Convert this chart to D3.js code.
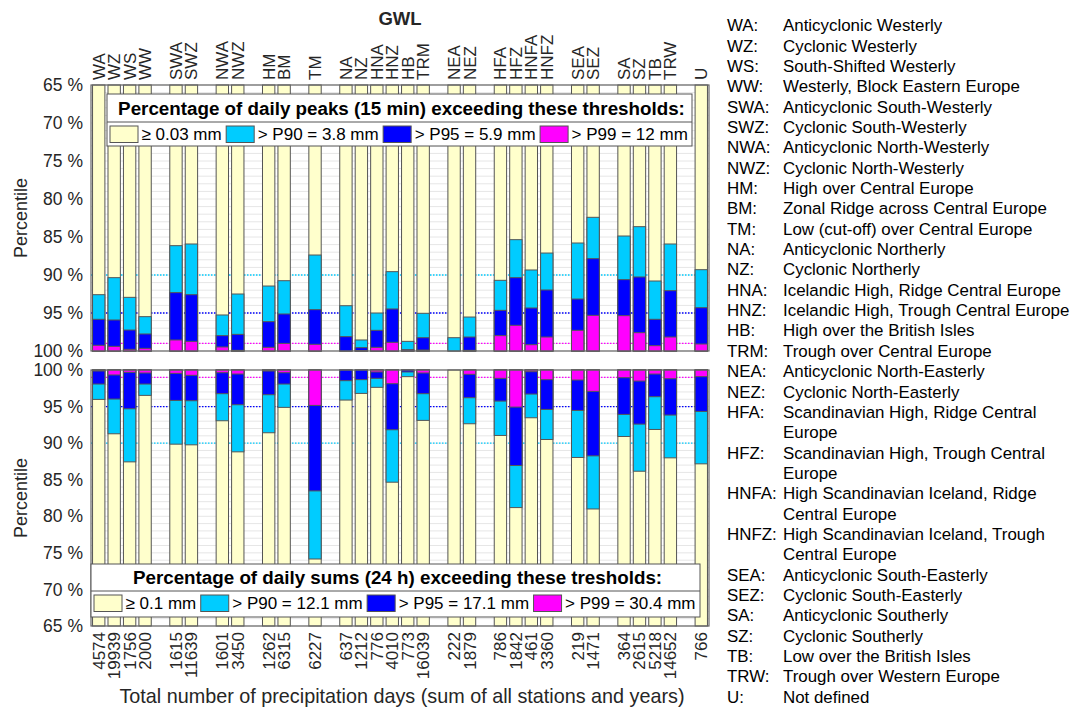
<!DOCTYPE html>
<html>
<head>
<meta charset="utf-8">
<script src="https://cdn.jsdelivr.net/npm/d3@7"></script>
<style>
  body { margin: 0; background: #fff; }
  svg { font-family: "Liberation Sans", Arial, sans-serif; }
</style>
</head>
<body>
<svg id="chart" width="1077" height="709"></svg>
<script>
// weather types (GWL), grouped; one empty slot between groups
const groups = [
  ["WA", "WZ", "WS", "WW"], ["SWA", "SWZ"], ["NWA", "NWZ"], ["HM", "BM"], ["TM"],
  ["NA", "NZ", "HNA", "HNZ", "HB", "TRM"], ["NEA", "NEZ"], ["HFA", "HFZ", "HNFA", "HNFZ"],
  ["SEA", "SEZ"], ["SA", "SZ", "TB", "TRW"], ["U"]
]
const counts = [4574, 19939, 1756, 2000, 1615, 11639, 1601, 3450, 1262, 6315, 6227,
  637, 1212, 776, 4010, 773, 16039, 222, 1879, 786, 1842, 461, 3360, 219, 1471,
  364, 2615, 5218, 14652, 766]

// share of days (%) exceeding P90 / P95 / P99 -- daily peaks (15 min)
const peak90 = [7.41, 9.65, 7.06, 4.52, 13.86, 14.08, 4.74, 7.5, 8.55, 9.25, 12.63,
  5.96, 1.45, 5.0, 10.44, 1.27, 4.96, 1.75, 4.47, 9.3, 14.65, 10.66, 12.89, 14.21, 17.59,
  15.13, 16.36, 9.21, 14.08, 10.7]
const peak95 = [4.17, 4.08, 2.76, 2.24, 7.68, 7.41, 2.02, 2.19, 3.86, 4.87, 5.44,
  1.89, 0.44, 2.72, 5.53, 0.18, 1.75, 0, 1.84, 5.35, 9.65, 5.66, 8.03, 6.84, 12.15,
  9.39, 9.74, 4.17, 7.94, 5.7]
const peak99 = [0.75, 0.61, 0.22, 0.35, 1.45, 1.27, 0.53, 0.09, 0.48, 1.0, 0.88,
  0, 0.05, 0.48, 1.14, 0.03, 0.13, 0, 0.09, 2.02, 3.38, 0.83, 1.84, 2.72, 4.69,
  4.65, 2.41, 0.7, 1.84, 0.92]

// share of days (%) exceeding P90 / P95 / P99 -- daily sums (24 h)
const sum90 = [4.02, 8.72, 12.56, 3.47, 10.14, 10.23, 6.94, 11.19, 8.58, 5.11, 25.84,
  4.11, 3.2, 2.37, 15.34, 0.91, 6.89, 0, 7.35, 8.95, 18.81, 6.53, 9.5, 11.96, 19.0,
  9.09, 13.84, 8.13, 12.01, 12.83]
const sum95 = [1.92, 3.97, 5.3, 1.92, 4.16, 4.2, 3.24, 4.75, 3.38, 1.92, 16.53,
  1.46, 1.32, 1.14, 8.17, 0.27, 3.24, 0, 3.79, 4.25, 13.06, 3.29, 5.39, 5.53, 11.74,
  6.07, 7.4, 3.65, 6.16, 5.66]
const sum99 = [0.14, 0.68, 0.32, 0.41, 0.46, 0.73, 0.37, 0.55, 0.14, 0.37, 4.84,
  0, 0, 0.27, 1.87, 0, 0.41, 0, 0.59, 1.14, 5.07, 0.23, 1.32, 1.37, 2.92,
  1.05, 1.51, 0.55, 1.19, 0.91]

const yTicks = [65, 70, 75, 80, 85, 90, 95, 100]
const refLevels = [90, 95, 99]

const peakLegend = ["\u2265 0.03 mm", "> P90 = 3.8 mm", "> P95 = 5.9 mm", "> P99 = 12 mm"]
const sumLegend = ["\u2265 0.1 mm", "> P90 = 12.1 mm", "> P95 = 17.1 mm", "> P99 = 30.4 mm"]

const descriptions = [
  ["WA:", "Anticyclonic Westerly"], ["WZ:", "Cyclonic Westerly"],
  ["WS:", "South-Shifted Westerly"], ["WW:", "Westerly, Block Eastern Europe"],
  ["SWA:", "Anticyclonic South-Westerly"], ["SWZ:", "Cyclonic South-Westerly"],
  ["NWA:", "Anticyclonic North-Westerly"], ["NWZ:", "Cyclonic North-Westerly"],
  ["HM:", "High over Central Europe"], ["BM:", "Zonal Ridge across Central Europe"],
  ["TM:", "Low (cut-off) over Central Europe"], ["NA:", "Anticyclonic Northerly"],
  ["NZ:", "Cyclonic Northerly"], ["HNA:", "Icelandic High, Ridge Central Europe"],
  ["HNZ:", "Icelandic High, Trough Central Europe"], ["HB:", "High over the British Isles"],
  ["TRM:", "Trough over Central Europe"], ["NEA:", "Anticyclonic North-Easterly"],
  ["NEZ:", "Cyclonic North-Easterly"], ["HFA:", "Scandinavian High, Ridge Central\nEurope"],
  ["HFZ:", "Scandinavian High, Trough Central\nEurope"],
  ["HNFA:", "High Scandinavian Iceland, Ridge\nCentral Europe"],
  ["HNFZ:", "High Scandinavian Iceland, Trough\nCentral Europe"],
  ["SEA:", "Anticyclonic South-Easterly"], ["SEZ:", "Cyclonic South-Easterly"],
  ["SA:", "Anticyclonic Southerly"], ["SZ:", "Cyclonic Southerly"],
  ["TB:", "Low over the British Isles"], ["TRW:", "Trough over Western Europe"],
  ["U:", "Not defined"]
]

const colors = ["#ffffcc", "#00ccff", "#0000ff", "#ff00ff"]

const cfg = { left: 91, right: 709, top1: 85, bot1: 351, top2: 370, bot2: 626 }
const svg = d3.select("#chart")
const names = groups.flat()

const slotKeys = []
groups.forEach((g, i) => {
  if (i > 0) slotKeys.push("gap" + i)
  g.forEach(n => slotKeys.push(n))
})

const x = d3.scaleBand()
  .domain(slotKeys)
  .range([cfg.left, cfg.right])
  .paddingInner(0.2)
  .paddingOuter(0.1)

const yPeak = d3.scaleLinear().domain([65, 100]).range([cfg.top1, cfg.bot1])
const ySum = d3.scaleLinear().domain([100, 65]).range([cfg.top2, cfg.bot2])

function drawPanel(y, e90, e95, e99) {
  const g = svg.append("g")
  const [y0, y1] = y.range()

  g.selectAll(".grid")
    .data(d3.range(65, 101))
    .join("line")
    .attr("x1", cfg.left).attr("x2", cfg.right)
    .attr("y1", d => y(d)).attr("y2", d => y(d))
    .attr("stroke", "#e6e6e6")
    .attr("stroke-width", 1)

  g.selectAll(".ref")
    .data(refLevels)
    .join("line")
    .attr("x1", cfg.left).attr("x2", cfg.right)
    .attr("y1", d => y(d)).attr("y2", d => y(d))
    .attr("stroke", (d, i) => colors[i + 1])
    .attr("stroke-width", 1.3)
    .attr("stroke-dasharray", "1.5,1.5")

  // full yellow bar, then overlaid exceedance bars from the 100 % side
  const layers = [names.map(() => 35), e90, e95, e99]
  layers.forEach((vals, li) => {
    const rows = names.map((n, i) => ({ n, v: vals[i] })).filter(d => d.v > 0)
    g.selectAll(".l" + li)
      .data(rows)
      .join("rect")
      .attr("x", d => x(d.n))
      .attr("width", x.bandwidth())
      .attr("y", d => Math.min(y(100), y(100 - d.v)))
      .attr("height", d => Math.abs(y(100) - y(100 - d.v)))
      .attr("fill", colors[li])
      .attr("stroke", "#555")
      .attr("stroke-width", 1)
  })

  g.append("rect")
    .attr("x", cfg.left).attr("y", Math.min(y0, y1))
    .attr("width", cfg.right - cfg.left).attr("height", Math.abs(y1 - y0))
    .attr("fill", "none").attr("stroke", "#666").attr("stroke-width", 1.2)

  const ax = g.append("g")
    .attr("transform", "translate(" + cfg.left + ",0)")
    .call(d3.axisLeft(y).tickValues(yTicks).tickFormat(d => d + " %").tickSize(0).tickPadding(8))
  ax.attr("font-family", null).attr("font-size", null)
  ax.select(".domain").remove()
  ax.selectAll("text").attr("font-size", 17.5).attr("fill", "#262626")

  g.append("text")
    .attr("transform", "translate(27," + ((y0 + y1) / 2) + ") rotate(-90)")
    .attr("text-anchor", "middle")
    .attr("font-size", 18)
    .attr("fill", "#262626")
    .text("Percentile")
  return g
}

drawPanel(yPeak, peak90, peak95, peak99)
drawPanel(ySum, sum90, sum95, sum99)

// GWL labels on top
const topAx = svg.append("g")
  .attr("transform", "translate(0," + cfg.top1 + ")")
  .call(d3.axisTop(x).tickSize(0).tickFormat(d => d.startsWith("gap") ? "" : d))
topAx.attr("font-family", null).attr("font-size", null)
topAx.select(".domain").remove()
topAx.selectAll("text")
  .attr("transform", "rotate(-90)")
  .attr("x", 5).attr("y", 6).attr("dy", 0)
  .attr("text-anchor", "start")
  .attr("font-size", 17)
  .attr("fill", "#262626")

svg.append("text")
  .attr("x", 400).attr("y", 25)
  .attr("text-anchor", "middle")
  .attr("font-size", 18.5).attr("font-weight", "bold")
  .attr("fill", "#262626")
  .text("GWL")

// precipitation day counts at the bottom
const botAx = svg.append("g")
  .attr("transform", "translate(0," + cfg.bot2 + ")")
  .call(d3.axisBottom(x).tickSize(0).tickFormat(d => {
    const i = names.indexOf(d)
    return i < 0 ? "" : counts[i]
  }))
botAx.attr("font-family", null).attr("font-size", null)
botAx.select(".domain").remove()
botAx.selectAll("text")
  .attr("transform", "rotate(-90)")
  .attr("x", -6).attr("y", 6).attr("dy", 0)
  .attr("text-anchor", "end")
  .attr("font-size", 17)
  .attr("fill", "#262626")

svg.append("text")
  .attr("x", 402).attr("y", 703)
  .attr("text-anchor", "middle")
  .attr("font-size", 19.8)
  .attr("fill", "#262626")
  .text("Total number of precipitation days (sum of all stations and years)")

// in-plot legends
function drawLegend(box, title, labels) {
  const g = svg.append("g")
  g.append("rect")
    .attr("x", box.x).attr("y", box.y).attr("width", box.w).attr("height", box.h)
    .attr("fill", "#fff").attr("stroke", "#555").attr("stroke-width", 1)
  g.append("line")
    .attr("x1", box.x).attr("x2", box.x + box.w)
    .attr("y1", box.y + box.split).attr("y2", box.y + box.split)
    .attr("stroke", "#555").attr("stroke-width", 1)
  g.append("text")
    .attr("x", box.x + box.w / 2 + 2).attr("y", box.y + box.split - 7)
    .attr("text-anchor", "middle")
    .attr("font-size", 18.8).attr("font-weight", "bold")
    .attr("fill", "#000")
    .text(title)
  let cx = box.x + 3
  labels.forEach((lab, i) => {
    g.append("rect")
      .attr("x", cx).attr("y", box.y + box.split + 4)
      .attr("width", 28).attr("height", 16.5)
      .attr("fill", colors[i]).attr("stroke", "#555")
    const t = g.append("text")
      .attr("x", cx + 31.5).attr("y", box.y + box.split + 18)
      .attr("font-size", 17).attr("fill", "#000")
      .text(lab)
    cx += 31.5 + t.node().getComputedTextLength() + 4.5
  })
}

drawLegend({ x: 107, y: 94, w: 585, h: 52, split: 28 },
  "Percentage of daily peaks (15 min) exceeding these thresholds:", peakLegend)
drawLegend({ x: 91, y: 564, w: 609, h: 53, split: 27 },
  "Percentage of daily sums (24 h) exceeding these tresholds:", sumLegend)

// GWL descriptions on the right
const descLines = []
descriptions.forEach(([abbr, text]) => {
  text.split("\n").forEach((line, j) => descLines.push({ abbr: j === 0 ? abbr : "", line }))
})
const desc = svg.append("g").attr("font-size", 16.9).attr("fill", "#000")
desc.selectAll(".ab")
  .data(descLines)
  .join("text")
  .attr("x", 727).attr("y", (d, i) => 31.2 + i * 20.35)
  .text(d => d.abbr)
desc.selectAll(".ds")
  .data(descLines)
  .join("text")
  .attr("x", 783).attr("y", (d, i) => 31.2 + i * 20.35)
  .text(d => d.line)
</script>
</body>
</html>
